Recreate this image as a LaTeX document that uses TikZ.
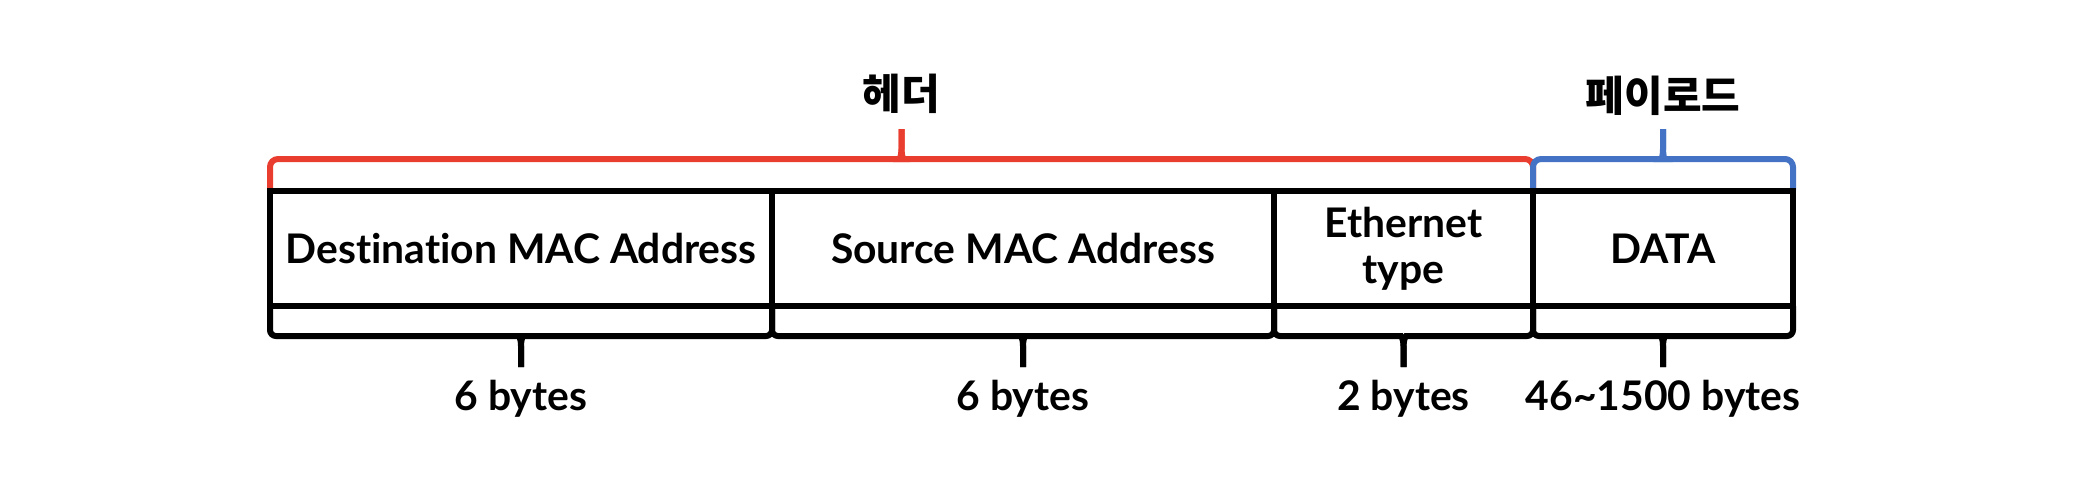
\documentclass[tikz,border=0pt]{standalone}
\usepackage{fontspec}
\setmainfont{Lato}[Ligatures={NoCommon}]
\newfontfamily\krfont{Noto Sans CJK KR}
\definecolor{hdrred}{RGB}{233,62,47}
\definecolor{plblue}{RGB}{68,114,196}
\begin{document}
\begin{tikzpicture}[x=0.5pt,y=-0.5pt,
  every node/.style={font=\bfseries\fontsize{20.4pt}{23pt}\selectfont, inner sep=0pt, text=black},
  field/.style={draw=black, line width=3pt, minimum height=57.75pt, align=center},
  korean/.style={font=\krfont\bfseries\fontsize{21pt}{24pt}\selectfont},
  bracebot/.style={draw=black, line width=3pt, rounded corners=3pt},
  bracetop/.style={line width=3pt, rounded corners=4pt},
]
\useasboundingbox (0,0) rectangle (2086,484);

% top braces
\draw[bracetop, draw=hdrred] (270,190) -- (270,159) -- (893,159) [sharp corners] .. controls (899,159) and (901.5,156) .. (901.5,149) -- (901.5,129);
\draw[bracetop, draw=hdrred] (1533,190) -- (1533,159) -- (910,159) [sharp corners] .. controls (904,159) and (901.5,156) .. (901.5,149) -- (901.5,129);
\draw[bracetop, draw=plblue] (1533,190) -- (1533,159) -- (1655,159) [sharp corners] .. controls (1661,159) and (1663,156) .. (1663,149) -- (1663,129);
\draw[bracetop, draw=plblue] (1793,190) -- (1793,159) -- (1671,159) [sharp corners] .. controls (1665,159) and (1663,156) .. (1663,149) -- (1663,129);

% bottom braces
\draw[bracebot] (270,306) -- (270,336) -- (513,336) [sharp corners] .. controls (519,336) and (521,339) .. (521,346) -- (521,367);
\draw[bracebot] (772,306) -- (772,336) -- (529,336) [sharp corners] .. controls (523,336) and (521,339) .. (521,346) -- (521,367);
\draw[bracebot] (772,306) -- (772,336) -- (1015,336) [sharp corners] .. controls (1021,336) and (1023,339) .. (1023,346) -- (1023,367);
\draw[bracebot] (1274,306) -- (1274,336) -- (1031,336) [sharp corners] .. controls (1025,336) and (1023,339) .. (1023,346) -- (1023,367);
\draw[bracebot] (1274,306) -- (1274,336) -- (1395,336) [sharp corners] .. controls (1401,336) and (1403.5,339) .. (1403.5,346) -- (1403.5,367);
\draw[bracebot] (1533,306) -- (1533,336) -- (1412,336) [sharp corners] .. controls (1406,336) and (1403.5,339) .. (1403.5,346) -- (1403.5,367);
\draw[bracebot] (1533,306) -- (1533,336) -- (1655,336) [sharp corners] .. controls (1661,336) and (1663,339) .. (1663,346) -- (1663,367);
\draw[bracebot] (1793,306) -- (1793,336) -- (1671,336) [sharp corners] .. controls (1665,336) and (1663,339) .. (1663,346) -- (1663,367);

% fields
\node[field, minimum width=251pt] (dst) at (521,248.25) {Destination MAC Address};
\node[field, minimum width=251pt] (src) at (1023,248.25) {Source MAC Address};
\node[field, minimum width=129.5pt] (etype) at (1403.5,248.25) {Ethernet\\type};
\node[field, minimum width=130pt] (data) at (1663,248.25) {DATA};

% labels
\node[korean] (hdrlbl) at (901.5,94) {헤더};
\node[korean] (pllbl) at (1663,96) {페이로드};
\node[anchor=base] (b1) at (521,410) {6 bytes};
\node[anchor=base] (b2) at (1023,410) {6 bytes};
\node[anchor=base] (b3) at (1403.5,410) {2 bytes};
\node[anchor=base] (b4) at (1663,410) {46\textasciitilde 1500 bytes};
\end{tikzpicture}
\end{document}
